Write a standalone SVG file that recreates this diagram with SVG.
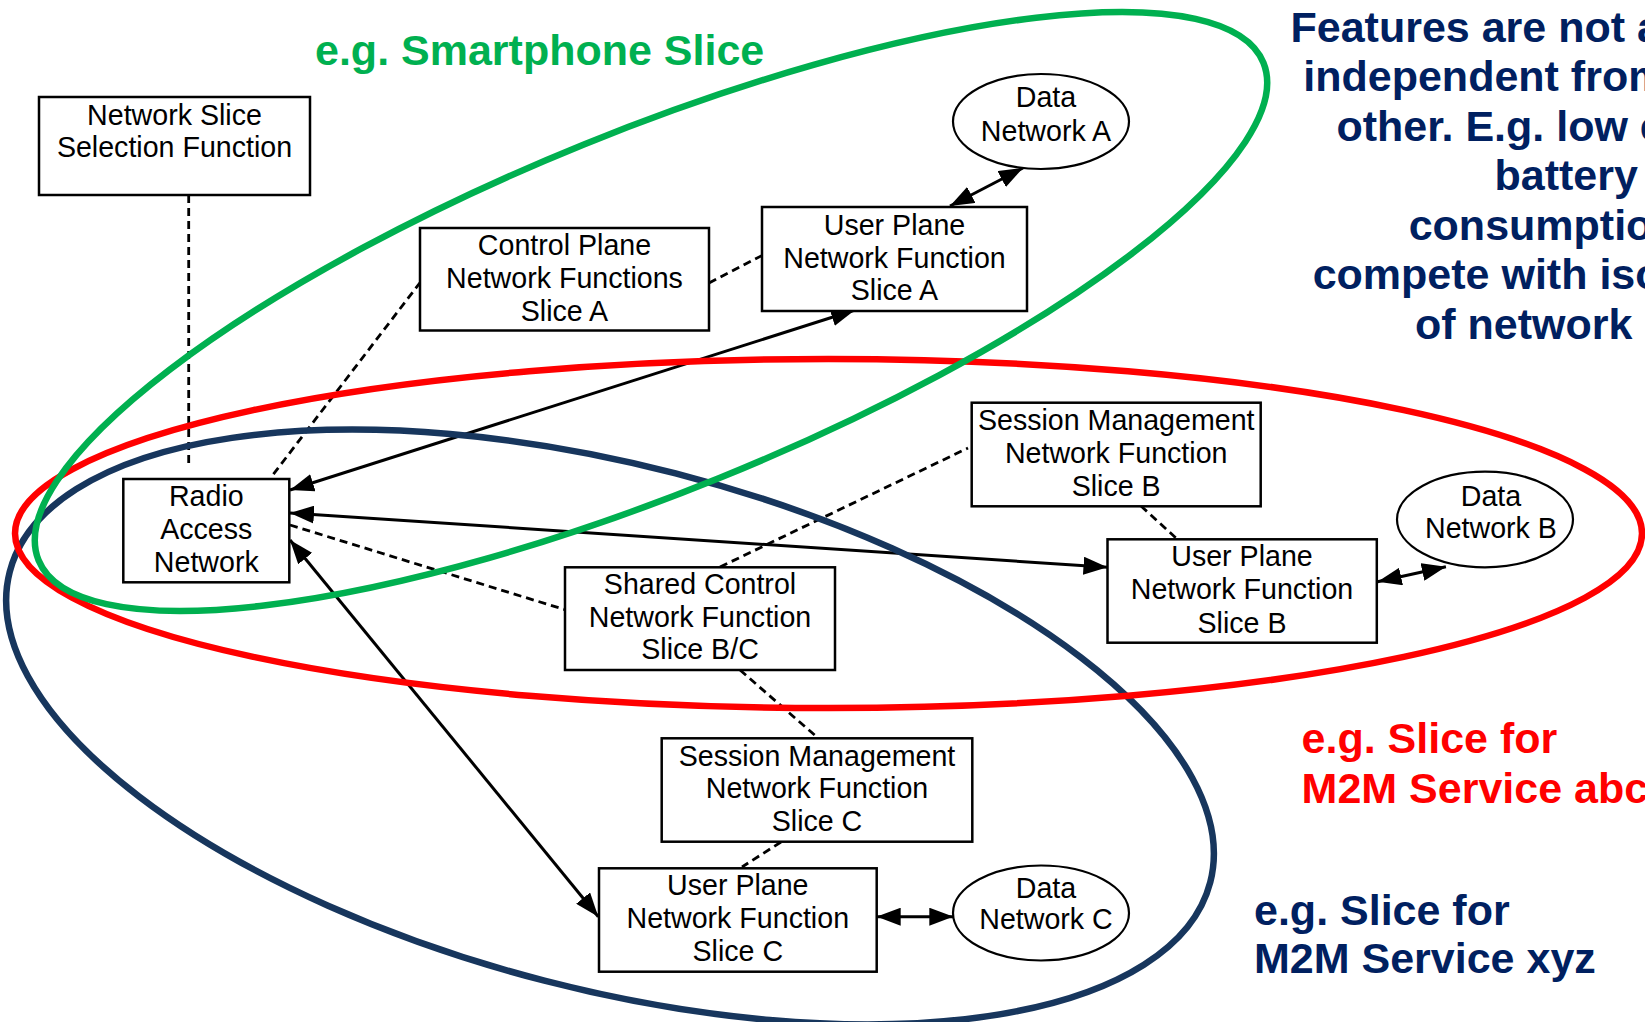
<svg xmlns="http://www.w3.org/2000/svg" width="1645" height="1022" viewBox="0 0 1645 1022">
  <defs>
    <style>
      .box{fill:#fff;stroke:#000;stroke-width:2.5}
      .dn{fill:#fff;stroke:#000;stroke-width:2.2}
      .lbl{font-family:"Liberation Sans",Arial,sans-serif;font-size:28.6px;fill:#000;text-anchor:middle}
      .link{stroke:#000;stroke-width:3;fill:none;marker-start:url(#ah);marker-end:url(#ah)}
      .dash{stroke:#000;stroke-width:2.8;stroke-dasharray:8 5;fill:none}
      .slice{fill:none;stroke-width:6.5}
      .big{font-family:"Liberation Sans",Arial,sans-serif;font-weight:bold;font-size:43px}
    </style>
    <marker id="ah" viewBox="0 0 24 18" markerWidth="24" markerHeight="18" refX="24" refY="9" orient="auto-start-reverse" markerUnits="userSpaceOnUse">
      <path d="M0,0 L24,9 L0,18 z" fill="#000"/>
    </marker>
  </defs>
  <rect width="1645" height="1022" fill="#fff"/>

  <!-- connectors -->
  <g id="connectors">
    <line class="dash" x1="188.7" y1="195" x2="188.7" y2="467"/>
    <line class="dash" x1="420.5" y1="282" x2="270.5" y2="478"/>
    <line class="dash" x1="709" y1="283" x2="763" y2="255"/>
    <line class="dash" x1="290" y1="525" x2="566" y2="610"/>
    <line class="dash" x1="720" y1="567" x2="968" y2="448"/>
    <line class="dash" x1="1141" y1="506" x2="1176" y2="538"/>
    <line class="dash" x1="740" y1="670" x2="818" y2="738"/>
    <line class="dash" x1="781" y1="842" x2="742" y2="867"/>
    <line class="link" x1="290" y1="490" x2="855" y2="310"/>
    <line class="link" x1="290" y1="513" x2="1107.5" y2="567.3"/>
    <line class="link" x1="290" y1="540" x2="598.3" y2="916.7"/>
    <line class="link" x1="950" y1="206" x2="1023" y2="168"/>
    <line class="link" x1="1377.6" y1="581.7" x2="1445.9" y2="566.7"/>
    <line class="link" x1="876.7" y1="916.7" x2="953.3" y2="916.7"/>
  </g>

  <!-- network functions -->
  <g id="nssf">
    <rect class="box" x="39" y="97" width="271" height="98"/>
    <text class="lbl" x="174.5" y="125">Network Slice</text>
    <text class="lbl" x="174.5" y="157.3">Selection Function</text>
  </g>
  <g id="cp-a">
    <rect class="box" x="420" y="228" width="289" height="102.5"/>
    <text class="lbl" x="564.5" y="255">Control Plane</text>
    <text class="lbl" x="564.5" y="287.5">Network Functions</text>
    <text class="lbl" x="564.5" y="320.5">Slice A</text>
  </g>
  <g id="upf-a">
    <rect class="box" x="762" y="207" width="265" height="104"/>
    <text class="lbl" x="894.5" y="235">User Plane</text>
    <text class="lbl" x="894.5" y="268">Network Function</text>
    <text class="lbl" x="894.5" y="300">Slice A</text>
  </g>
  <g id="dn-a">
    <ellipse class="dn" cx="1041" cy="121.5" rx="88" ry="47.5"/>
    <text class="lbl" x="1046" y="107.3">Data</text>
    <text class="lbl" x="1046" y="140.7">Network A</text>
  </g>
  <g id="ran">
    <rect class="box" x="123.3" y="479" width="166" height="103.3"/>
    <text class="lbl" x="206.3" y="506">Radio</text>
    <text class="lbl" x="206.3" y="539">Access</text>
    <text class="lbl" x="206.3" y="572">Network</text>
  </g>
  <g id="shared-cp">
    <rect class="box" x="565" y="567.3" width="270" height="102.7"/>
    <text class="lbl" x="700" y="594.3">Shared Control</text>
    <text class="lbl" x="700" y="626.7">Network Function</text>
    <text class="lbl" x="700" y="659">Slice B/C</text>
  </g>
  <g id="smf-b">
    <rect class="box" x="971.7" y="402.7" width="289" height="103.6"/>
    <text class="lbl" x="1116.2" y="430">Session Management</text>
    <text class="lbl" x="1116.2" y="463.3">Network Function</text>
    <text class="lbl" x="1116.2" y="495.7">Slice B</text>
  </g>
  <g id="upf-b">
    <rect class="box" x="1107.5" y="539.3" width="269.3" height="103.4"/>
    <text class="lbl" x="1242" y="566">User Plane</text>
    <text class="lbl" x="1242" y="599.3">Network Function</text>
    <text class="lbl" x="1242" y="632.7">Slice B</text>
  </g>
  <g id="dn-b">
    <ellipse class="dn" cx="1485" cy="519.5" rx="88" ry="47.8"/>
    <text class="lbl" x="1491" y="505.7">Data</text>
    <text class="lbl" x="1491" y="538.3">Network B</text>
  </g>
  <g id="smf-c">
    <rect class="box" x="661.7" y="738.3" width="310.6" height="103.4"/>
    <text class="lbl" x="817" y="766">Session Management</text>
    <text class="lbl" x="817" y="798.3">Network Function</text>
    <text class="lbl" x="817" y="831">Slice C</text>
  </g>
  <g id="upf-c">
    <rect class="box" x="599" y="868.3" width="277.7" height="103.4"/>
    <text class="lbl" x="737.8" y="895">User Plane</text>
    <text class="lbl" x="737.8" y="928.3">Network Function</text>
    <text class="lbl" x="737.8" y="960.7">Slice C</text>
  </g>
  <g id="dn-c">
    <ellipse class="dn" cx="1041" cy="913" rx="88" ry="47.5"/>
    <text class="lbl" x="1046" y="898.3">Data</text>
    <text class="lbl" x="1046" y="929">Network C</text>
  </g>

  <!-- slice outlines -->
  <g id="slice-xyz">
    <ellipse class="slice" stroke="#17365d" cx="610" cy="727" rx="620" ry="262" transform="rotate(14.5 610 727)"/>
  </g>
  <g id="slice-abc">
    <ellipse class="slice" stroke="#ff0000" cx="828.5" cy="533.5" rx="813.5" ry="174.5"/>
  </g>
  <g id="slice-smartphone">
    <ellipse class="slice" stroke="#00b050" cx="651" cy="311.5" rx="661" ry="180" transform="rotate(-22.1 651 311.5)"/>
  </g>

  <!-- slice captions -->
  <g id="captions" class="big">
    <text x="315" y="65" fill="#00b050">e.g. Smartphone Slice</text>
    <text x="1301.6" y="753.3" fill="#ff0000">e.g. Slice for</text>
    <text x="1301.6" y="803.3" fill="#ff0000">M2M Service abc</text>
    <text x="1254" y="925" fill="#002060">e.g. Slice for</text>
    <text x="1254" y="973.3" fill="#002060">M2M Service xyz</text>
  </g>
  <g id="note" class="big" fill="#002060">
    <text x="1290.5" y="41.7">Features are not a</text>
    <text x="1303.3" y="91">independent from</text>
    <text x="1336.4" y="140.5">other. E.g. low e</text>
    <text x="1494.5" y="190">battery</text>
    <text x="1408.7" y="239.5">consumptio</text>
    <text x="1312.7" y="289">compete with iso</text>
    <text x="1415" y="338.5">of network</text>
  </g>
</svg>
